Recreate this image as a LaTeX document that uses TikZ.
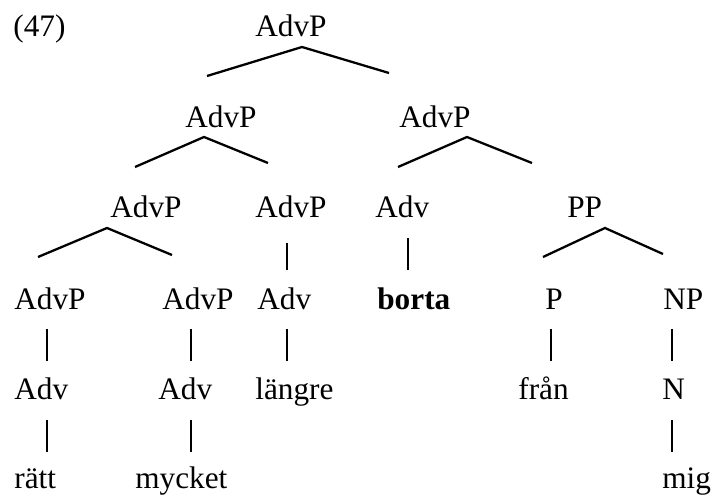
\documentclass[tikz,border=0pt]{standalone}
\usepackage{fontspec}
\setmainfont{Liberation Serif}
\tikzset{cat/.style={anchor=base west,inner sep=0pt,
font=\fontsize{17.8}{21}\selectfont}}
\tikzset{branch/.style={line width=1.3pt}}

\begin{document}
\begin{tikzpicture}[x=0.02cm,y=-0.02cm]
        \useasboundingbox (0,0) rectangle (720,496);

        \node[cat] (num) at (13,37) {(47)};

        % categories, row by row
        \node[cat] (advpA) at (255,37) {AdvP};

        \node[cat] (advpB) at (185,128) {AdvP};
        \node[cat] (advpC) at (399,128) {AdvP};

        \node[cat] (advpD) at (110,218) {AdvP};
        \node[cat] (advpE) at (255,218) {AdvP};
        \node[cat] (advA) at (375,218) {Adv};
        \node[cat] (pp) at (567,218) {PP};

        \node[cat] (advpF) at (14,310) {AdvP};
        \node[cat] (advpG) at (162,310) {AdvP};
        \node[cat] (advB) at (257,310) {Adv};
        \node[cat] (borta) at (377,310) {\textbf{borta}};
        \node[cat] (p) at (545,310) {P};
        \node[cat] (np) at (663,310) {NP};

        \node[cat] (advC) at (14,399) {Adv};
        \node[cat] (advD) at (158,399) {Adv};
        \node[cat] (langre) at (255,399) {längre};
        \node[cat] (fran) at (518,399) {från};
        \node[cat] (n) at (662,399) {N};

        \node[cat] (ratt) at (14,488) {rätt};
        \node[cat] (mycket) at (135,488) {mycket};
        \node[cat] (mig) at (662,488) {mig};

        % branching points
        \coordinate (advpAt) at (302,47);
        \coordinate (advpAl) at (207,76);
        \coordinate (advpAr) at (389,73);
        \draw[branch] (advpAl) -- (advpAt) -- (advpAr);

        \coordinate (advpBt) at (204,137);
        \coordinate (advpBl) at (135,167);
        \coordinate (advpBr) at (268,163);
        \draw[branch] (advpBl) -- (advpBt) -- (advpBr);

        \coordinate (advpCt) at (467,137);
        \coordinate (advpCl) at (398,167);
        \coordinate (advpCr) at (532,163);
        \draw[branch] (advpCl) -- (advpCt) -- (advpCr);

        \coordinate (advpDt) at (107,228);
        \coordinate (advpDl) at (38,257);
        \coordinate (advpDr) at (172,255);
        \draw[branch] (advpDl) -- (advpDt) -- (advpDr);

        \coordinate (ppt) at (605,228);
        \coordinate (ppl) at (543,257);
        \coordinate (ppr) at (663,254);
        \draw[branch] (ppl) -- (ppt) -- (ppr);

        % unary branches
        \coordinate (advpEb) at (287,243);
        \coordinate (advBt) at (287,270);
        \draw[branch] (advpEb) -- (advBt);

        \coordinate (advAb) at (408,238);
        \coordinate (bortat) at (408,270);
        \draw[branch] (advAb) -- (bortat);

        \coordinate (advpFb) at (47,329);
        \coordinate (advCt) at (47,361);
        \draw[branch] (advpFb) -- (advCt);

        \coordinate (advpGb) at (191,329);
        \coordinate (advDt) at (191,361);
        \draw[branch] (advpGb) -- (advDt);

        \coordinate (advBb) at (287,329);
        \coordinate (langret) at (287,361);
        \draw[branch] (advBb) -- (langret);

        \coordinate (pb) at (551,329);
        \coordinate (frant) at (551,361);
        \draw[branch] (pb) -- (frant);

        \coordinate (npb) at (672,329);
        \coordinate (nt) at (672,361);
        \draw[branch] (npb) -- (nt);

        \coordinate (advCb) at (47,420);
        \coordinate (rattt) at (47,452);
        \draw[branch] (advCb) -- (rattt);

        \coordinate (advDb) at (191,420);
        \coordinate (mycket t) at (191,452);
        \draw[branch] (advDb) -- (mycket t);

        \coordinate (nb) at (672,420);
        \coordinate (migt) at (672,452);
        \draw[branch] (nb) -- (migt);

\end{tikzpicture}
\end{document}
